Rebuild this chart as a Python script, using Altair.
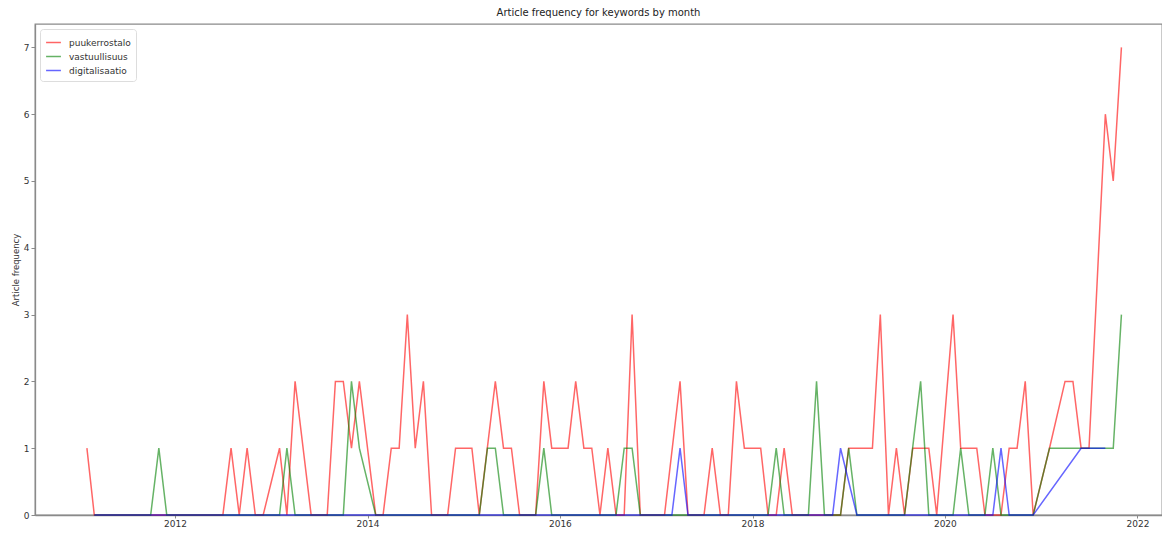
import altair as alt
import pandas as pd

# --- data (first day of each month) ---
red_dates = ["2011-02", "2011-03", "2012-07", "2012-08", "2012-09", "2012-10", "2012-11", "2012-12",
             "2013-02", "2013-03", "2013-04", "2013-06", "2013-08", "2013-09", "2013-10", "2013-11",
             "2013-12", "2014-02", "2014-03", "2014-04", "2014-05", "2014-06", "2014-07", "2014-08",
             "2014-09", "2014-11", "2014-12", "2015-02", "2015-03", "2015-05", "2015-06", "2015-07",
             "2015-08", "2015-10", "2015-11", "2015-12", "2016-02", "2016-03", "2016-04", "2016-05",
             "2016-06", "2016-07", "2016-08", "2016-09", "2016-10", "2016-11", "2017-02", "2017-04",
             "2017-05", "2017-07", "2017-08", "2017-09", "2017-10", "2017-11", "2017-12", "2018-02",
             "2018-03", "2018-04", "2018-05", "2018-06", "2018-12", "2019-01", "2019-04", "2019-05",
             "2019-06", "2019-07", "2019-08", "2019-09", "2019-11", "2019-12", "2020-02", "2020-03",
             "2020-05", "2020-06", "2020-08", "2020-09", "2020-10", "2020-11", "2020-12", "2021-02",
             "2021-04", "2021-05", "2021-06", "2021-07", "2021-09", "2021-10", "2021-11"]
red_values = [1, 0, 0, 1, 0, 1, 0, 0,
              1, 0, 2, 0, 0, 2, 2, 1,
              2, 0, 0, 1, 1, 3, 1, 2,
              0, 0, 1, 1, 0, 2, 1, 1,
              0, 0, 2, 1, 1, 2, 1, 1,
              0, 1, 0, 0, 3, 0, 0, 2,
              0, 0, 1, 0, 0, 2, 1, 1,
              0, 0, 1, 0, 0, 1, 1, 3,
              0, 1, 0, 1, 1, 0, 3, 1,
              1, 0, 0, 1, 1, 2, 0, 1,
              2, 2, 1, 1, 6, 5, 7]

green_dates = ["2011-03", "2011-10", "2011-11", "2011-12", "2013-02", "2013-03", "2013-04", "2013-10",
               "2013-11", "2013-12", "2014-02", "2015-03", "2015-04", "2015-05", "2015-06", "2015-10",
               "2015-11", "2015-12", "2016-08", "2016-09", "2016-10", "2016-11", "2018-03", "2018-04",
               "2018-05", "2018-08", "2018-09", "2018-10", "2018-12", "2019-01", "2019-02", "2019-08",
               "2019-10", "2019-11", "2020-02", "2020-03", "2020-04", "2020-06", "2020-07", "2020-08",
               "2020-12", "2021-02", "2021-10", "2021-11"]
green_values = [0, 0, 1, 0, 0, 1, 0, 0,
                2, 1, 0, 0, 1, 1, 0, 0,
                1, 0, 0, 1, 1, 0, 0, 1,
                0, 0, 2, 0, 0, 1, 0, 0,
                2, 0, 0, 1, 0, 0, 1, 0,
                0, 1, 1, 3]

blue_dates = ["2011-03", "2017-03", "2017-04", "2017-05", "2018-11", "2018-12", "2019-02", "2020-07",
              "2020-08", "2020-09", "2020-12", "2021-06", "2021-09"]
blue_values = [0, 0, 1, 0, 0, 1, 0, 0,
               1, 0, 0, 1, 1]

keywords = ["puukerrostalo", "vastuullisuus", "digitalisaatio"]
colors = ["#ff0000", "#008000", "#0000ff"]
y_ticks = [0, 1, 2, 3, 4, 5, 6, 7]
x_tick_years = [2012, 2014, 2016, 2018, 2020, 2022]

rows = []
for kw, dates, vals in zip(keywords, [red_dates, green_dates, blue_dates],
                           [red_values, green_values, blue_values]):
    for i, (d, v) in enumerate(zip(dates, vals)):
        rows.append({"keyword": kw, "date": d + "-01", "count": v, "idx": i})
df = pd.DataFrame(rows)

font = "DejaVu Sans"
axis_color = "#8a8a8a"

chart = alt.Chart(df).mark_line(strokeWidth=1.5, opacity=0.6).encode(
    x=alt.X("date:T",
            scale=alt.Scale(type="utc",
                            domain=[alt.DateTime(year=2010, month=7, date=19, utc=True),
                                    alt.DateTime(year=2022, month=4, date=4, utc=True)]),
            axis=alt.Axis(title=None, values=[alt.DateTime(year=y, month=1, date=1, utc=True) for y in x_tick_years],
                          format="%Y", formatType="utc", grid=False, labelFontSize=9, labelColor="#333",
                          tickColor=axis_color, tickSize=3, labelPadding=1, domainColor=axis_color,
                          domainWidth=1.3, labelFont=font)),
    y=alt.Y("count:Q",
            scale=alt.Scale(domain=[0, 7.35], nice=False, zero=True),
            axis=alt.Axis(title="Article frequency", values=y_ticks, grid=False, labelFontSize=9,
                          labelColor="#333", tickColor=axis_color, tickSize=4, labelPadding=2,
                          domainColor=axis_color, domainWidth=1.3, titleFontSize=8.5,
                          titleFontWeight="normal", titleColor="#333", titlePadding=3,
                          labelFont=font, titleFont=font)),
    color=alt.Color("keyword:N",
                    scale=alt.Scale(domain=keywords, range=colors),
                    sort=keywords,
                    legend=alt.Legend(title=None, orient="top-left", offset=5, padding=5,
                                      fillColor="white", strokeColor="#dddddd", cornerRadius=3,
                                      symbolType="stroke", symbolSize=220, symbolStrokeWidth=1.5,
                                      symbolOpacity=0.6, labelFontSize=9, labelFont=font,
                                      labelColor="#333", rowPadding=0, labelOffset=7)),
    order=alt.Order("idx:Q"),
).properties(
    width=1127,
    height=491,
    title=alt.TitleParams("Article frequency for keywords by month", fontSize=10, font=font,
                          fontWeight="normal", color="#222", offset=6),
    autosize=alt.AutoSizeParams(type="none"),
    padding={"left": 27, "top": 16, "right": 0, "bottom": 15},
).configure_view(
    stroke=axis_color, strokeWidth=1.3
)

chart.save("out.html", embed_options={"renderer": "svg", "actions": False})
